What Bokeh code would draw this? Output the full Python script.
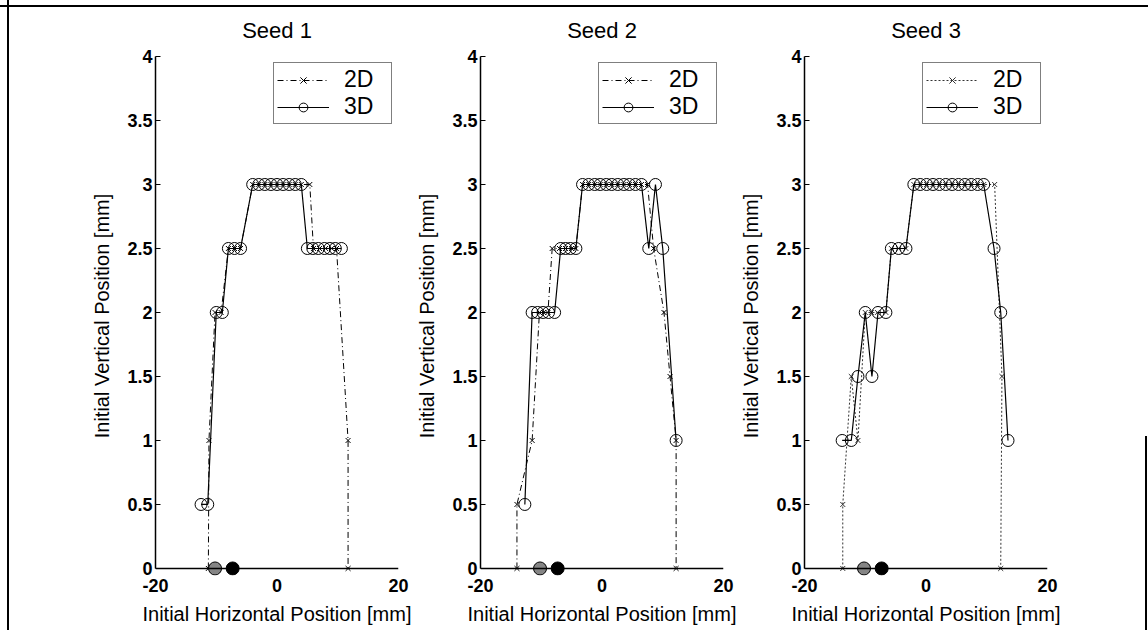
from bokeh.plotting import figure
from bokeh.layouts import row
from bokeh.models import Range1d, FixedTicker, CustomJSTickFormatter, Span
from bokeh.embed import file_html
from bokeh.resources import INLINE

FONT = "Liberation Sans"

titles = ["Seed 1", "Seed 2", "Seed 3"]
x_ticks = [-20, 0, 20]
y_ticks = [0, 0.5, 1, 1.5, 2, 2.5, 3, 3.5, 4]
x_label = "Initial Horizontal Position [mm]"
y_label = "Initial Vertical Position [mm]"

# Seed 1
s1_2d_x = [-11.3, -11.2, -10.2, -9.2, -8, -7, -6, -4, -3, -2, -1, 0, 1, 2, 3, 4, 5.4,
           6, 7, 8, 9, 9.8, 11.7, 11.7]
s1_2d_y = [0, 1, 2, 2, 2.5, 2.5, 2.5, 3, 3, 3, 3, 3, 3, 3, 3, 3, 3,
           2.5, 2.5, 2.5, 2.5, 2.5, 1, 0]
s1_3d_x = [-12.5, -11.4, -10, -9, -8, -7, -6, -4, -3, -2, -1, 0, 1, 2, 3, 4,
           5, 5.9, 6.8, 7.8, 8.7, 9.6, 10.6]
s1_3d_y = [0.5, 0.5, 2, 2, 2.5, 2.5, 2.5, 3, 3, 3, 3, 3, 3, 3, 3, 3,
           2.5, 2.5, 2.5, 2.5, 2.5, 2.5, 2.5]

# Seed 2
s2_2d_x = [-14, -14, -11.5, -10.3, -9.6, -8.9, -8.2, -7, -6, -5, -4.3,
           -3.2, -2.2, -1.2, -0.3, 0.7, 1.6, 2.6, 3.6, 4.5, 5.5, 6.5, 7.5,
           8.5, 10.2, 11.2, 12.2, 12.2]
s2_2d_y = [0, 0.5, 1, 2, 2, 2, 2.5, 2.5, 2.5, 2.5, 2.5,
           3, 3, 3, 3, 3, 3, 3, 3, 3, 3, 3, 3,
           2.5, 2, 1.5, 1, 0]
s2_3d_x = [-12.7, -11.5, -10.6, -9.7, -8.8, -7.8, -6.8, -6, -5.2, -4.3,
           -3.2, -2.2, -1.2, -0.3, 0.7, 1.6, 2.6, 3.6, 4.5, 5.5, 6.5,
           7.7, 8.8, 10, 12.2]
s2_3d_y = [0.5, 2, 2, 2, 2, 2, 2.5, 2.5, 2.5, 2.5,
           3, 3, 3, 3, 3, 3, 3, 3, 3, 3, 3,
           2.5, 3, 2.5, 1]

# Seed 3
s3_2d_x = [-13.7, -13.7, -12.3, -11.2, -10, -9, -8, -6.6, -5.7, -4.5, -3.3,
           -2, -0.95, 0.1, 1.15, 2.2, 3.25, 4.3, 5.35, 6.4, 7.45, 8.5, 9.5,
           11.3, 12.5, 12.3]
s3_2d_y = [0, 0.5, 1.5, 1, 2, 2, 2, 2, 2.5, 2.5, 2.5,
           3, 3, 3, 3, 3, 3, 3, 3, 3, 3, 3, 3,
           3, 1.5, 0]
s3_3d_x = [-13.8, -12.3, -11.2, -10, -8.9, -7.9, -6.6, -5.7, -4.5, -3.3,
           -2, -0.95, 0.1, 1.15, 2.2, 3.25, 4.3, 5.35, 6.4, 7.45, 8.5, 9.5,
           11.2, 12.3, 13.5]
s3_3d_y = [1, 1, 1.5, 2, 1.5, 2, 2, 2.5, 2.5, 2.5,
           3, 3, 3, 3, 3, 3, 3, 3, 3, 3, 3, 3,
           2.5, 2, 1]

# seed positions on the baseline (same in every panel)
seed_grey_x = [-10.2]
seed_grey_y = [0]
seed_black_x = [-7.3]
seed_black_y = [0]


def panel(title, x2, y2, x3, y3, left, right, dash2, col2):
    p = figure(frame_width=243, frame_height=519,
               x_range=Range1d(-20, 20), y_range=Range1d(-0.055, 4),
               min_border_left=left, min_border_right=right,
               min_border_top=56, min_border_bottom=55,
               output_backend="svg", toolbar_location=None, title=title)
    p.outline_line_color = None
    p.xgrid.visible = False
    p.ygrid.visible = False
    p.background_fill_color = "white"
    p.border_fill_color = None

    p.title.align = "center"
    p.title.text_font = FONT
    p.title.text_font_size = "22px"
    p.title.text_font_style = "normal"
    p.title.text_color = "black"
    p.title.standoff = 28

    for ax in (p.xaxis[0], p.yaxis[0]):
        ax.axis_line_width = 1.5
        ax.axis_line_color = "black"
        ax.major_tick_in = 5
        ax.major_tick_out = 0
        ax.major_tick_line_color = "black"
        ax.minor_tick_line_color = None
        ax.major_label_text_font = FONT
        ax.major_label_text_font_style = "bold"
        ax.major_label_text_font_size = "18px"
        ax.major_label_text_color = "black"
        ax.axis_label_text_font = FONT
        ax.axis_label_text_font_style = "normal"
        ax.axis_label_text_font_size = "20px"
        ax.axis_label_text_color = "black"
        ax.formatter = CustomJSTickFormatter(code="return String(tick);")
    p.xaxis.ticker = FixedTicker(ticks=x_ticks)
    p.yaxis.ticker = FixedTicker(ticks=y_ticks)
    p.xaxis.axis_label = x_label
    p.yaxis.axis_label = y_label
    p.yaxis.bounds = (0, 4)
    p.yaxis.major_label_standoff = 3
    p.yaxis.axis_label_standoff = 11
    # the baseline y = 0 sits a few pixels above the frame edge, so that the
    # markers lying on it are not cut; the axis line is drawn there instead
    p.xaxis.axis_line_color = None
    p.xaxis.major_tick_line_color = None
    p.xaxis.major_label_standoff = 3
    p.xaxis.axis_label_standoff = 8
    p.add_layout(Span(location=0, dimension="width", line_color="black",
                      line_width=1.5))

    p.line(x2, y2, line_color=col2, line_width=1, line_dash=dash2, legend_label="2D")
    p.scatter(x2, y2, marker="x", size=7, line_color=col2, line_width=1, legend_label="2D")
    p.line(x3, y3, line_color="black", line_width=1.2, legend_label="3D")
    p.scatter(x3, y3, marker="circle", size=12, fill_color=None,
              line_color="black", line_width=1, legend_label="3D")
    p.scatter(seed_grey_x, seed_grey_y, marker="circle", size=13,
              fill_color="#858585", line_color="black", line_width=1)
    p.scatter(seed_black_x, seed_black_y, marker="circle", size=13,
              fill_color="black", line_color="black")

    lg = p.legend[0]
    lg.location = "top_right"
    lg.margin = 6
    lg.padding = 3
    lg.spacing = 0
    lg.border_line_color = "black"
    lg.border_line_width = 1.5
    lg.background_fill_color = "white"
    lg.background_fill_alpha = 1
    lg.label_text_font = FONT
    lg.label_text_font_size = "23px"
    lg.label_text_color = "black"
    lg.glyph_width = 52
    lg.glyph_height = 22
    lg.label_height = 22
    lg.label_width = 44
    lg.label_standoff = 15
    return p


p1 = panel(titles[0], s1_2d_x, s1_2d_y, s1_3d_x, s1_3d_y, 155, 15, "6 3 1 3", "black")
p2 = panel(titles[1], s2_2d_x, s2_2d_y, s2_3d_x, s2_3d_y, 63, 14, "6 3 1 3", "black")
p3 = panel(titles[2], s3_2d_x, s3_2d_y, s3_3d_x, s3_3d_y, 63, 109, "2 2", "#333333")

# thin frame lines of the scanned page (top, left, and the short piece on the right)
frame_css = {
    "background-image": "linear-gradient(#000,#000), linear-gradient(#000,#000), "
                        "linear-gradient(#000,#000)",
    "background-size": "100% 2px, 2px 100%, 2px 100%",
    "background-position": "0 5px, 7px 0, 1145px 436px",
    "background-repeat": "no-repeat",
}

layout = row(p1, p2, p3, styles=frame_css)

open("out.html", "w").write(file_html(layout, INLINE))
